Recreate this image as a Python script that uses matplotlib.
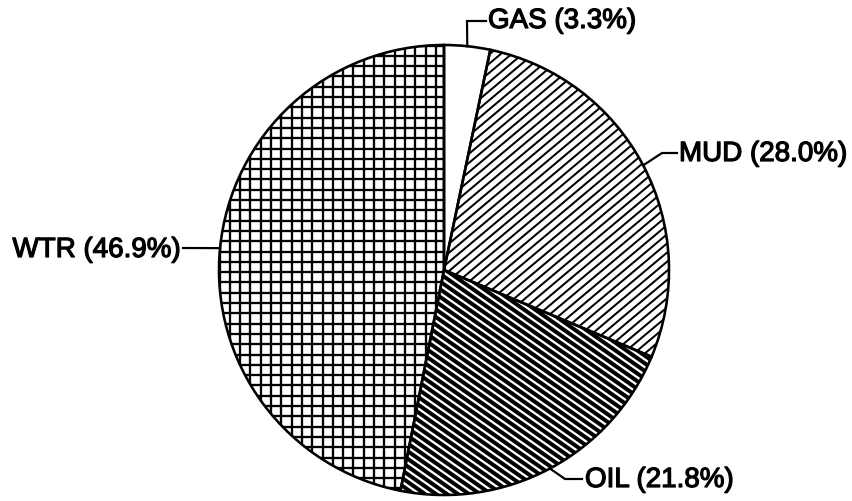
import numpy as np
import matplotlib.pyplot as plt
import matplotlib.patheffects as pe
from matplotlib.collections import LineCollection

labels = ['GAS', 'MUD', 'OIL', 'WTR']
shares = [3.3, 28.0, 21.8, 46.9]

# hatch per slice: (angle deg, spacing px, line width px)
hatches = {
    'GAS': [],
    'MUD': [(40, 7.0, 2.0)],
    'OIL': [(-35, 6.3, 4.0)],
    'WTR': [(0, 10.3, 2.3), (90, 10.3, 2.3)],
}
# leader elbow / end points and text anchor (pixel coords, y up)
leaders = {
    'GAS': ([(467, 480), (486, 480)], (488, 480), 'left'),
    'MUD': ([(662, 348), (677, 348)], (679, 347), 'left'),
    'OIL': ([(565, 22), (582, 22)], (585, 21), 'left'),
    'WTR': ([(183, 253)], (181, 251), 'right'),
}

plt.rcParams['font.family'] = ['Liberation Sans', 'DejaVu Sans']
px = 0.72  # points per pixel at dpi 100

fig = plt.figure(figsize=(8.53, 5.01), dpi=100)
ax = fig.add_axes([0, 0, 1, 1])
cx, cy, r = 444, 231, 225

wedges, _ = ax.pie(shares, startangle=90, counterclock=False, center=(cx, cy), radius=r,
                   colors=['white'] * 4, wedgeprops=dict(linewidth=0))
ax.pie(shares, startangle=90, counterclock=False, center=(cx, cy), radius=r,
       wedgeprops=dict(fill=False, edgecolor='black', linewidth=2.6 * px, zorder=3))


def hatch_segments(angle, step):
    t = np.deg2rad(angle)
    u = np.array([np.cos(t), np.sin(t)])
    n = np.array([-np.sin(t), np.cos(t)])
    c = np.array([cx, cy])
    return [[c + d * n - 1.3 * r * u, c + d * n + 1.3 * r * u]
            for d in np.arange(-1.2 * r, 1.2 * r, step)]


for lab, w in zip(labels, wedges):
    for angle, step, lw in hatches[lab]:
        lc = LineCollection(hatch_segments(angle, step), colors='black', linewidths=lw * px, zorder=2)
        ax.add_collection(lc)
        lc.set_clip_path(w)

# leaders start at the middle of each slice
cum = np.cumsum([0] + shares)
for i, lab in enumerate(labels):
    mid = np.deg2rad(90 - (cum[i] + shares[i] / 2) * 3.6)
    start = (cx + r * np.cos(mid), cy + r * np.sin(mid))
    pts, (tx, ty), ha = leaders[lab]
    xs, ys = zip(start, *pts)
    ax.plot(xs, ys, color='black', lw=2.2 * px, solid_joinstyle='miter', zorder=4)
    ax.text(tx, ty, f'{lab} ({shares[i]:.1f}%)', ha=ha, va='center', fontsize=20, color='black',
            path_effects=[pe.withStroke(linewidth=0.9, foreground='black')])

ax.set_xlim(0, 853)
ax.set_ylim(0, 501)
ax.axis('off')
plt.savefig('out.png', dpi=100)
